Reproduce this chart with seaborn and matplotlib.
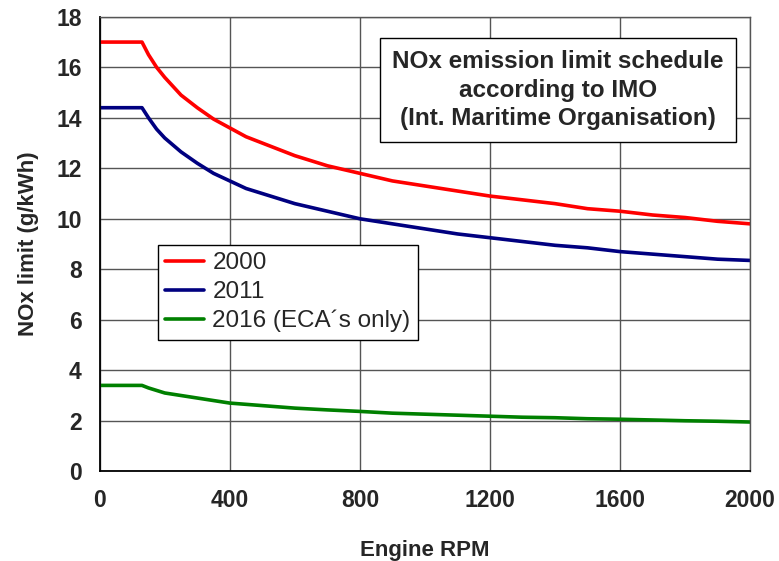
import matplotlib
matplotlib.use("Agg")
import matplotlib.pyplot as plt
import seaborn as sns
import pandas as pd

rpm = [0, 130, 150, 175, 200, 250, 300, 350, 400, 450, 500, 600, 700, 800,
       900, 1000, 1100, 1200, 1300, 1400, 1500, 1600, 1700, 1800, 1900, 2000]
nox_2000 = [17.0, 17.0, 16.5, 16.0, 15.6, 14.9, 14.4, 13.95, 13.6, 13.25, 13.0, 12.5, 12.1, 11.8,
            11.5, 11.3, 11.1, 10.9, 10.75, 10.6, 10.4, 10.3, 10.15, 10.05, 9.9, 9.8]
nox_2011 = [14.4, 14.4, 14.0, 13.55, 13.2, 12.65, 12.2, 11.8, 11.5, 11.2, 11.0, 10.6, 10.3, 10.0,
            9.8, 9.6, 9.4, 9.25, 9.1, 8.95, 8.85, 8.7, 8.6, 8.5, 8.4, 8.35]
nox_2016 = [3.4, 3.4, 3.3, 3.2, 3.1, 3.0, 2.9, 2.8, 2.7, 2.65, 2.6, 2.5, 2.43, 2.37,
            2.3, 2.26, 2.22, 2.18, 2.14, 2.12, 2.08, 2.06, 2.03, 2.0, 1.98, 1.95]
series_names = ["2000", "2011", "2016 (ECA´s only)"]
colors = ["#FF0000", "#000080", "#008000"]

x_ticks = [0, 400, 800, 1200, 1600, 2000]
y_ticks = [0, 2, 4, 6, 8, 10, 12, 14, 16, 18]

frames = []
for name, vals in zip(series_names, [nox_2000, nox_2011, nox_2016]):
    frames.append(pd.DataFrame({"rpm": rpm, "nox": vals, "series": name}))
df = pd.concat(frames, ignore_index=True)

sns.set_style("white")
plt.rcParams["font.family"] = ["Liberation Sans", "DejaVu Sans"]

fig = plt.figure(figsize=(7.79, 5.61), dpi=100)
ax = fig.add_axes([0.128, 0.160, 0.835, 0.810])

sns.lineplot(data=df, x="rpm", y="nox", hue="series", hue_order=series_names,
             palette=colors, estimator=None, sort=False, linewidth=2.6, ax=ax)

ax.set_xlim(0, 2000)
ax.set_ylim(0, 18)
ax.set_xticks(x_ticks)
ax.set_yticks(y_ticks)
ax.grid(True, color="#555555", linewidth=1.0)
ax.set_axisbelow(True)
for lbl in ax.get_xticklabels() + ax.get_yticklabels():
    lbl.set_fontweight("bold")
    lbl.set_fontsize(16.5)
ax.tick_params(axis="both", direction="out", length=5, width=1, color="black", pad=8)

for side in ["left", "bottom"]:
    ax.spines[side].set_color("black")
    ax.spines[side].set_linewidth(1.3)
for side in ["top", "right"]:
    ax.spines[side].set_color("#555555")
    ax.spines[side].set_linewidth(1.0)

ax.set_xlabel("Engine RPM", fontsize=16, fontweight="bold", labelpad=20)
ax.set_ylabel("NOx limit (g/kWh)", fontsize=16, fontweight="bold", labelpad=12)

leg = ax.legend(loc="upper left", bbox_to_anchor=(0.089, 0.498), borderaxespad=0,
                fontsize=17.5, frameon=True, fancybox=False, edgecolor="black",
                handlelength=1.6, handletextpad=0.35, labelspacing=0.28,
                borderpad=0.3, framealpha=1)
leg.get_frame().set_linewidth(1.0)

ax.text(1409, 15.1, "NOx emission limit schedule\naccording to IMO\n(Int. Maritime Organisation)",
        ha="center", va="center", fontsize=17.5, fontweight="bold", linespacing=1.3,
        bbox=dict(boxstyle="square,pad=0.5", facecolor="white", edgecolor="black", linewidth=1.0))

fig.savefig("out.png", dpi=100)
